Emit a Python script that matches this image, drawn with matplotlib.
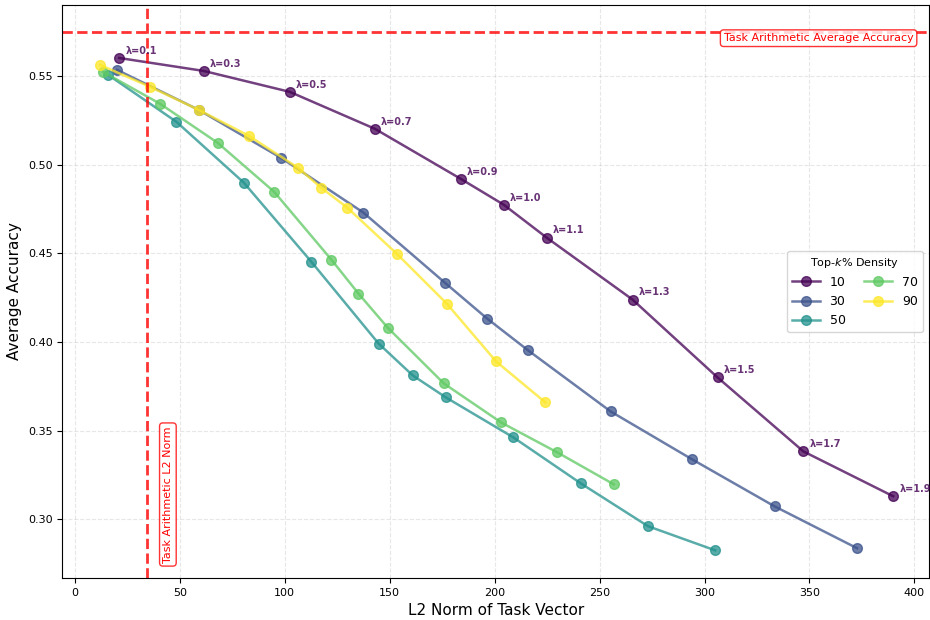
import numpy as np
import matplotlib
matplotlib.use("Agg")
import matplotlib.pyplot as plt

# lambda scaling values (labels shown on the 10% curve)
lambdas = ["0.1", "0.3", "0.5", "0.7", "0.9", "1.0", "1.1", "1.3", "1.5", "1.7", "1.9"]
densities = [10, 30, 50, 70, 90]

norm_10 = [21.1, 61.4, 102.4, 142.9, 183.8, 204.3, 224.8, 265.7, 306.2, 347.1, 389.9]
acc_10 = [0.5601, 0.5528, 0.5410, 0.5202, 0.4920, 0.4774, 0.4588, 0.4239, 0.3800, 0.3383, 0.3130]

norm_30 = [20.1, 58.9, 98.2, 137.5, 176.3, 196.4, 216.0, 255.3, 294.1, 333.4, 372.7]
acc_30 = [0.5534, 0.5309, 0.5038, 0.4729, 0.4334, 0.4132, 0.3952, 0.3608, 0.3338, 0.3073, 0.2837]

norm_50 = [15.8, 48.4, 80.5, 112.6, 144.7, 161.0, 176.8, 208.9, 241.0, 273.1, 305.1]
acc_50 = [0.5506, 0.5241, 0.4898, 0.4453, 0.3991, 0.3811, 0.3687, 0.3462, 0.3203, 0.2961, 0.2825]

norm_70 = [13.4, 40.7, 68.0, 94.9, 122.2, 135.1, 149.0, 175.8, 203.1, 229.9, 256.8]
acc_70 = [0.5523, 0.5342, 0.5123, 0.4847, 0.4464, 0.4273, 0.4081, 0.3766, 0.3546, 0.3377, 0.3197]

norm_90 = [12.0, 35.9, 58.9, 82.9, 106.3, 117.4, 129.8, 153.3, 177.2, 200.7, 224.2]
acc_90 = [0.5562, 0.5438, 0.5309, 0.5162, 0.4982, 0.4869, 0.4757, 0.4498, 0.4216, 0.3890, 0.3659]

ta_acc = 0.5748
ta_norm = 34.3

norms = [norm_10, norm_30, norm_50, norm_70, norm_90]
accs = [acc_10, acc_30, acc_50, acc_70, acc_90]
colors = plt.cm.viridis(np.linspace(0, 1, len(densities)))

fig, ax = plt.subplots(figsize=(9.3, 6.2), dpi=100)
fig.subplots_adjust(left=0.067, right=0.999, top=0.992, bottom=0.068)

for d, x, y, c in zip(densities, norms, accs, colors):
    ax.plot(x, y, "o-", color=c, alpha=0.75, linewidth=1.8, markersize=7, label=str(d))

# lambda labels on the 10% curve
for lam, x, y in zip(lambdas, norm_10, acc_10):
    ax.annotate("λ=" + lam, (x, y), xytext=(4.5, 3), textcoords="offset points",
                fontsize=7, fontweight="bold", color=colors[0], alpha=0.8)

ax.axhline(ta_acc, color="red", linestyle="--", linewidth=2, alpha=0.8)
ax.axvline(ta_norm, color="red", linestyle="--", linewidth=2, alpha=0.8)

box = dict(boxstyle="round,pad=0.3", facecolor="white", edgecolor="red", alpha=0.8)
ax.text(0.982, 0.942, "Task Arithmetic Average Accuracy", transform=ax.transAxes,
        ha="right", va="center", fontsize=8, color="red", bbox=box)
ax.text(ta_norm + 10, 0.2755, "Task Arithmetic L2 Norm", rotation=90,
        ha="center", va="bottom", fontsize=8, color="red", bbox=box)

ax.set_xlim(-6, 407)
ax.set_ylim(0.267, 0.59)
ax.set_xlabel("L2 Norm of Task Vector", fontsize=11)
ax.set_ylabel("Average Accuracy", fontsize=11)
ax.tick_params(labelsize=8)
ax.grid(True, linestyle="--", alpha=0.3)
ax.legend(title="Top-$k$% Density", ncol=2, loc="center right", fontsize=9,
          title_fontsize=8, handlelength=2.2, columnspacing=1.5)

plt.savefig("out.png")
